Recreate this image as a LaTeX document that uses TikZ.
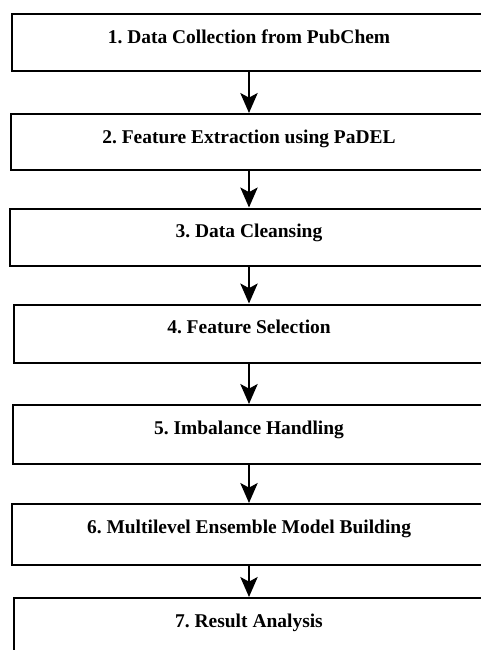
\documentclass[tikz,border=0pt]{standalone}
\usepackage{fontspec}
\setmainfont{Liberation Serif}
\usetikzlibrary{arrows.meta}

\tikzset{
  stage/.style={draw=black, line width=1.5pt, rectangle, inner sep=0pt,
    anchor=north west, fill=white, text height=21.75pt,
    font=\bfseries\fontsize{14.6}{17}\selectfont\frenchspacing},
  flow/.style={line width=1.5pt, -{Stealth[length=15pt, width=13pt, inset=3.5pt]}}
}

\begin{document}
\begin{tikzpicture}[x=0.75pt, y=-0.75pt]
  \useasboundingbox (0,0) rectangle (480,650);

  \node[stage, minimum width=355.5pt,  text depth=21pt]    (s1) at (11,13)     {1. Data Collection from PubChem};
  \node[stage, minimum width=357pt,    text depth=20.25pt] (s2) at (10,113)    {2. Feature Extraction using PaDEL};
  \node[stage, minimum width=358.5pt,  text depth=21.4pt]  (s3) at (9,207.5)   {3. Data Cleansing};
  \node[stage, minimum width=352.5pt,  text depth=21.9pt]  (s4) at (13,303.5)  {4. Feature Selection};
  \node[stage, minimum width=354.75pt, text depth=22.5pt]  (s5) at (11.5,404)  {5. Imbalance Handling};
  \node[stage, minimum width=356.25pt, text depth=24pt]    (s6) at (10.5,503)  {6. Multilevel Ensemble Model Building};
  \node[stage, minimum width=352.5pt,  text depth=25.5pt]  (s7) at (13,597)    {7. Result Analysis};

  \draw[flow] (s1.south) -- (s2.north);
  \draw[flow] (s2.south) -- (s3.north);
  \draw[flow] (s3.south) -- (s4.north);
  \draw[flow] (s4.south) -- (s5.north);
  \draw[flow] (s5.south) -- (s6.north);
  \draw[flow] (s6.south) -- (s7.north);
\end{tikzpicture}
\end{document}
